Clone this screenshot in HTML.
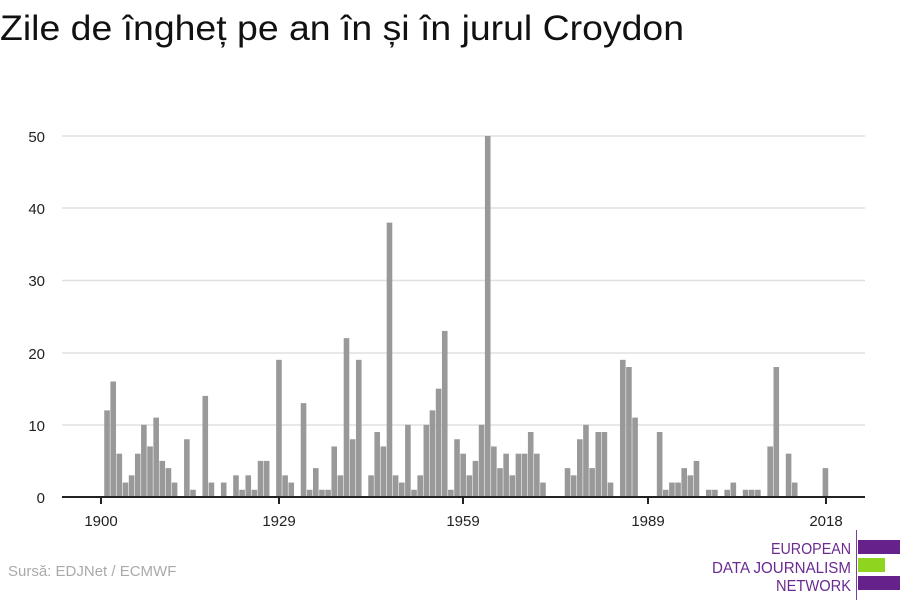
<!DOCTYPE html>
<html><head><meta charset="utf-8"><style>
html,body{margin:0;padding:0;background:#fff;}
svg{display:block;font-family:"Liberation Sans",sans-serif;}
</style></head><body>
<svg id="c" width="900" height="600" viewBox="0 0 900 600" xmlns="http://www.w3.org/2000/svg">
<text x="0" y="40" font-size="35" fill="#111" textLength="684" lengthAdjust="spacingAndGlyphs">Zile de îngheț pe an în și în jurul Croydon</text>
<g stroke="#e0e0e0" stroke-width="1.5">
<line x1="62" x2="865" y1="136" y2="136"/><line x1="62" x2="865" y1="208" y2="208"/><line x1="62" x2="865" y1="280.5" y2="280.5"/><line x1="62" x2="865" y1="353" y2="353"/><line x1="62" x2="865" y1="425" y2="425"/>
</g>
<g font-size="15" fill="#222" text-anchor="end">
<text x="45" y="142">50</text><text x="45" y="214">40</text><text x="45" y="286">30</text><text x="45" y="359">20</text><text x="45" y="431">10</text><text x="45" y="503">0</text>
</g>
<g id="bars" fill="#999"></g>
<line x1="62" x2="865" y1="497" y2="497" stroke="#222" stroke-width="2"/>
<g stroke="#222" stroke-width="2">
<line x1="101" x2="101" y1="497" y2="504"/><line x1="279" x2="279" y1="497" y2="504"/><line x1="463" x2="463" y1="497" y2="504"/><line x1="648" x2="648" y1="497" y2="504"/><line x1="826" x2="826" y1="497" y2="504"/>
</g>
<g font-size="15" fill="#222" text-anchor="middle">
<text x="101" y="526">1900</text><text x="279" y="526">1929</text><text x="463" y="526">1959</text><text x="648" y="526">1989</text><text x="826" y="526">2018</text>
</g>
<text x="8" y="576" font-size="15" fill="#aaa">Sursă: EDJNet / ECMWF</text>
<g font-size="16" fill="#6b2a90" text-anchor="end">
<text x="851" y="554" textLength="80" lengthAdjust="spacingAndGlyphs">EUROPEAN</text>
<text x="851" y="573" textLength="139" lengthAdjust="spacingAndGlyphs">DATA JOURNALISM</text>
<text x="851" y="591" textLength="75" lengthAdjust="spacingAndGlyphs">NETWORK</text>
</g>
<line x1="856.5" x2="856.5" y1="530" y2="600" stroke="#7b3fa0" stroke-width="1"/>
<rect x="858" y="540" width="42" height="14" fill="#66228a"/>
<rect x="858" y="558" width="27" height="14" fill="#8fd41e"/>
<rect x="858" y="576" width="42" height="14" fill="#66228a"/>
</svg>
<script>
var d={1901:12,1902:16,1903:6,1904:2,1905:3,1906:6,1907:10,1908:7,1909:11,1910:5,1911:4,1912:2,1914:8,1915:1,1917:14,1918:2,1920:2,1922:3,1923:1,1924:3,1925:1,1926:5,1927:5,1929:19,1930:3,1931:2,1933:13,1934:1,1935:4,1936:1,1937:1,1938:7,1939:3,1940:22,1941:8,1942:19,1944:3,1945:9,1946:7,1947:38,1948:3,1949:2,1950:10,1951:1,1952:3,1953:10,1954:12,1955:15,1956:23,1957:1,1958:8,1959:6,1960:3,1961:5,1962:10,1963:50,1964:7,1965:4,1966:6,1967:3,1968:6,1969:6,1970:9,1971:6,1972:2,1976:4,1977:3,1978:8,1979:10,1980:4,1981:9,1982:9,1983:2,1985:19,1986:18,1987:11,1991:9,1992:1,1993:2,1994:2,1995:4,1996:3,1997:5,1999:1,2000:1,2002:1,2003:2,2005:1,2006:1,2007:1,2009:7,2010:18,2012:6,2013:2,2018:4};
var g=document.getElementById('bars'),s='';
for(var y in d){var cx=101+(y-1900)*6.14,h=d[y]*7.22;
s+='<rect x="'+(cx-2.9).toFixed(2)+'" y="'+(497-h).toFixed(2)+'" width="5.6" height="'+h.toFixed(2)+'"/>';}
g.innerHTML=s;
</script>
</body></html>
